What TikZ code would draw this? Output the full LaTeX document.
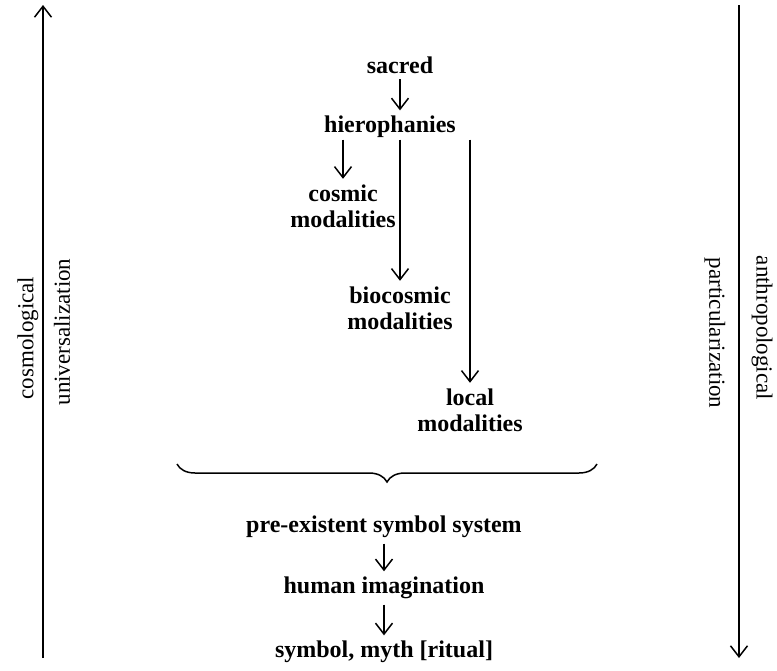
\documentclass[tikz,border=0pt]{standalone}
\usepackage{fontspec}
\setmainfont{Liberation Serif}
\usetikzlibrary{arrows.meta, decorations.pathreplacing}

\begin{document}
\begin{tikzpicture}[x = 0.5pt, y = -0.5pt, line width = 0.75pt,
  >={Straight Barb[length = 5.5pt, width = 8.5pt]},
  every node/.style = {inner sep = 2.5pt, align = center,
    font = \bfseries\fontsize{12}{13}\selectfont},
  sidelabel/.style = {inner sep = 0pt, font = \mdseries\fontsize{11.5}{13}\selectfont}]
  \useasboundingbox (0, 0) rectangle (777, 670);

  % 左右の軸
  \coordinate (lbot) at (43, 658);
  \coordinate (ltop) at (43, 5);
  \coordinate (rtop) at (739, 5);
  \coordinate (rbot) at (739, 658);
  \draw[->] (lbot)--(ltop);
  \draw[->] (rtop)--(rbot);

  \node[sidelabel, rotate = 90] (cosmo) at (28, 338) {cosmological};
  \node[sidelabel, rotate = 90] (univ) at (62, 332) {universalization};
  \node[sidelabel, rotate = -90] (anthro) at (762, 328) {anthropological};
  \node[sidelabel, rotate = -90] (partic) at (715, 333) {particularization};

  % 上の系列
  \node (sacred) at (400, 65) {sacred};
  \node (hiero) at (390, 127) {hierophanies};
  \node (cosmic) at (343, 206) {cosmic\\modalities};
  \node (bio) at (400, 308) {biocosmic\\modalities};
  \node (local) at (470, 410) {local\\modalities};

  \draw[->] (sacred.south)--(sacred.south |- hiero.north);
  \draw[->, shorten <= -2pt] (hiero.south -| cosmic.north)--(cosmic.north);
  \draw[->, shorten <= -2pt] (hiero.south -| bio.north)--(bio.north);
  \draw[->, shorten <= -2pt] (hiero.south -| local.north)--(local.north);

  % 括弧
  \draw[decorate, decoration = {brace, mirror, amplitude = 9pt}]
    (177, 464)--(597, 464);

  % 下の系列
  \node (pre) at (384, 527) {pre-existent symbol system};
  \node (human) at (384, 588) {human imagination};
  \node (symb) at (384, 652) {symbol, myth [ritual]};

  \foreach \a/\b in {pre/human, human/symb}
    \draw[->] (\a)--(\b);

\end{tikzpicture}
\end{document}
